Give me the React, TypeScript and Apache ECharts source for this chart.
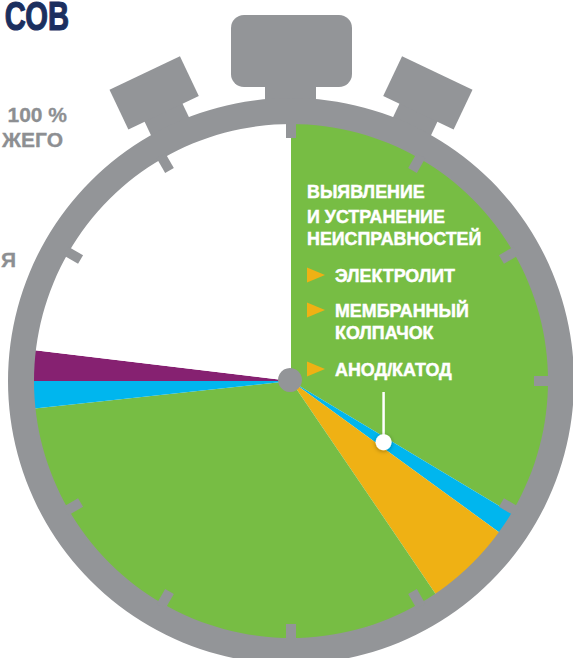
import React, { useEffect, useRef } from "react";
import * as echarts from "echarts";

// ---- Data (shares of the dial, read clockwise from 12 o'clock) ----
const segmentNames = [
  "Выявление и устранение неисправностей",
  "Электролит",
  "Анод/катод",
  "Выявление и устранение неисправностей (2)",
  "Мембранный колпачок",
  "Прочее",
  "Остальное время",
];
const segmentValues = [33.6, 1.4, 5.5, 32.8, 1.7, 1.9, 23.1];
const segmentColors = ["#77bd44", "#00b6ee", "#efb114", "#77bd44", "#00b6ee", "#862171", "#ffffff"];

const titleText = "СОВ";
const leftLabels = ["100 %", "ЖЕГО", "Я"];
const headingLines = ["ВЫЯВЛЕНИЕ", "И УСТРАНЕНИЕ", "НЕИСПРАВНОСТЕЙ"];
const bulletItems = [["ЭЛЕКТРОЛИТ"], ["МЕМБРАННЫЙ", "КОЛПАЧОК"], ["АНОД/КАТОД"]];
const dialHours = [0, 1, 2, 3, 4, 5, 6, 7, 8, 10, 11];
const pointerSegment = 1;

const W = 573;
const H = 658;
const CX = 291;
const CY = 381;
const PIE_R = 258;
const RING_OUT = 283;
const RING_IN = 257;
const GRAY = "#939598";
const FONT = '"Liberation Sans", Arial, sans-serif';

function txt(text: string, x: number, y: number, size: number, fill: string, align: string, scaleX = 1, strokeW = 0) {
  return {
    type: "text",
    x,
    y,
    scaleX,
    z: 20,
    silent: true,
    style: {
      text,
      fill,
      stroke: strokeW > 0 ? fill : undefined,
      lineWidth: strokeW,
      fontSize: size,
      fontWeight: "bold",
      fontFamily: FONT,
      align,
      verticalAlign: "middle",
      textAlign: align,
      textVerticalAlign: "middle",
    },
  };
}

export default function App() {
  const ref = useRef<HTMLDivElement>(null);

  useEffect(() => {
    document.body.style.margin = "0";
    if (!ref.current) return;
    const chart = echarts.init(ref.current, null, { renderer: "svg" });

    const total = segmentValues.reduce((a, b) => a + b, 0);
    let cum = 0;
    const starts: number[] = [];
    segmentValues.forEach((v) => {
      starts.push((cum / total) * 360);
      cum += v;
    });
    const midDeg = starts[pointerSegment] + ((segmentValues[pointerSegment] / total) * 360) / 2;
    const rad = (midDeg * Math.PI) / 180;
    const dotX = CX + 111 * Math.sin(rad);
    const dotY = CY - 111 * Math.cos(rad);

    const graphics: any[] = [];

    // crown
    graphics.push({ type: "rect", z: 10, silent: true, shape: { x: 265, y: 78, width: 51, height: 34 }, style: { fill: GRAY } });
    graphics.push({ type: "rect", z: 10, silent: true, shape: { x: 231, y: 15, width: 121, height: 72, r: 13 }, style: { fill: GRAY } });

    // side buttons
    [25.4, -25.4].forEach((deg) => {
      graphics.push({
        type: "group",
        x: CX,
        y: CY,
        rotation: (deg * Math.PI) / 180,
        silent: true,
        children: [
          { type: "rect", z: 10, shape: { x: -21, y: -302, width: 42, height: 30 }, style: { fill: GRAY } },
          { type: "rect", z: 10, shape: { x: -39, y: -341, width: 78, height: 44 }, style: { fill: GRAY } },
        ],
      });
    });

    // ring
    graphics.push({ type: "ring", z: 10, silent: true, shape: { cx: CX, cy: CY, r: RING_OUT, r0: RING_IN }, style: { fill: GRAY } });

    // hour ticks
    dialHours.forEach((h) => {
      graphics.push({
        type: "group",
        x: CX,
        y: CY,
        rotation: (-h * 30 * Math.PI) / 180,
        silent: true,
        children: [{ type: "rect", z: 10, shape: { x: -5, y: -RING_IN - 3, width: 10, height: 17 }, style: { fill: GRAY } }],
      });
    });

    // center hub
    graphics.push({ type: "circle", z: 12, silent: true, shape: { cx: 290, cy: 380, r: 12 }, style: { fill: GRAY } });

    // pointer
    graphics.push({ type: "line", z: 12, silent: true, shape: { x1: dotX, y1: 392, x2: dotX, y2: dotY }, style: { stroke: "#ffffff", lineWidth: 2.5 } });
    graphics.push({
      type: "circle",
      z: 13,
      silent: true,
      shape: { cx: dotX, cy: dotY, r: 8 },
      style: { fill: "#ffffff", shadowBlur: 4, shadowColor: "rgba(0,0,0,0.35)", shadowOffsetY: 1 },
    });

    // title and left labels
    graphics.push(txt(titleText, 69, 16, 40, "#1b2f5f", "right", 0.73, 1.2));
    graphics.push(txt(leftLabels[0], 67, 114.5, 21, "#8d8f92", "right", 1, 0.3));
    graphics.push(txt(leftLabels[1], 63, 139, 21, "#8d8f92", "right", 1, 0.3));
    graphics.push(txt(leftLabels[2], 16, 259.5, 21, "#8d8f92", "right", 1, 0.3));

    // heading
    const headY = [191.5, 216, 238];
    headingLines.forEach((l, i) => graphics.push(txt(l, 307, headY[i], 19, "#ffffff", "left", 0.94, 0.5)));

    // bullets
    const bulletYs = [[275], [310, 332.5], [369]];
    bulletItems.forEach((lines, i) => {
      const y0 = bulletYs[i][0];
      graphics.push({
        type: "polygon",
        z: 20,
        silent: true,
        shape: { points: [[307, y0 - 7.5], [325, y0], [307, y0 + 7.5]] },
        style: { fill: "#efb114" },
      });
      lines.forEach((l, j) => graphics.push(txt(l, 335, bulletYs[i][j], 19, "#ffffff", "left", 0.94, 0.5)));
    });

    chart.setOption({
      animation: false,
      backgroundColor: "#ffffff",
      series: [
        {
          type: "pie",
          center: [CX, CY],
          radius: [0, PIE_R],
          startAngle: 90,
          clockwise: true,
          silent: true,
          avoidLabelOverlap: false,
          label: { show: false },
          labelLine: { show: false },
          emphasis: { disabled: true },
          itemStyle: { borderWidth: 0 },
          z: 2,
          data: segmentValues.map((v, i) => ({
            value: v,
            name: segmentNames[i],
            itemStyle: { color: segmentColors[i] },
          })),
        },
      ],
      graphic: { elements: graphics },
    });

    return () => chart.dispose();
  }, []);

  return <div ref={ref} style={{ width: W, height: H }} />;
}
